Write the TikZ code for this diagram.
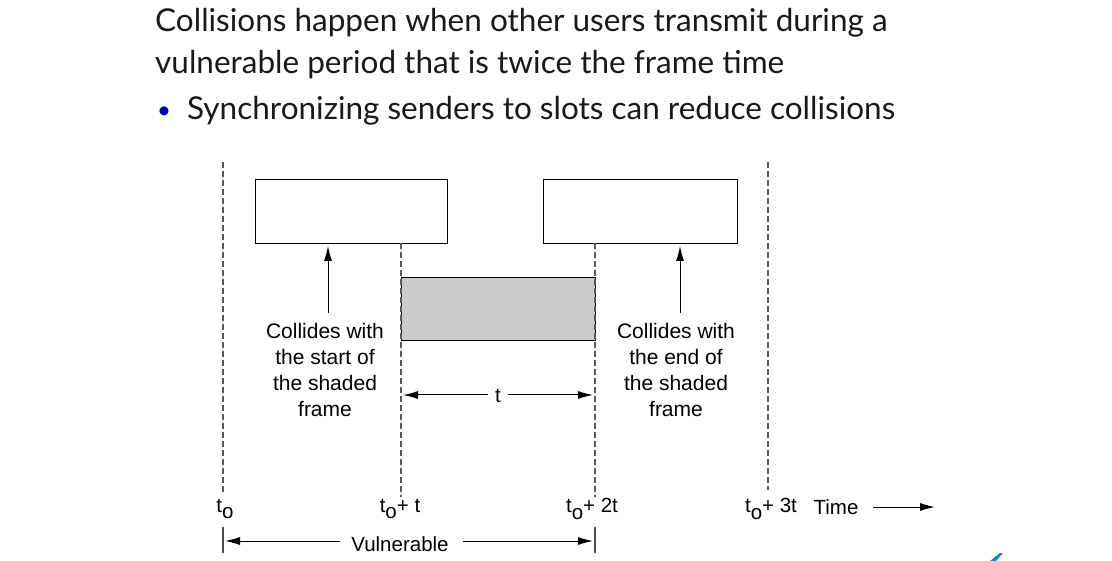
\documentclass[tikz,border=0pt]{standalone}
\usepackage{fontspec}
\setmainfont{Liberation Sans}
\newfontfamily\titlefont{Lato}
\usetikzlibrary{arrows.meta}
\begin{document}
\begin{tikzpicture}[x=1pt,y=-1pt,
  frame/.style={draw=black,line width=1.1pt,minimum width=192pt,minimum height=64pt,inner sep=0pt,anchor=north west},
  shaded/.style={frame,fill=black!20},
  vline/.style={draw=black!65,line width=1.1pt,dash pattern=on 6pt off 3pt},
  tick/.style={draw=black!70,line width=1.1pt},
  arr/.style={draw=black,line width=1pt,-{Latex[length=15pt,width=8pt]}},
  lbl/.style={font=\fontsize{21}{26}\selectfont,align=center,inner sep=0pt},
  tlabel/.style={font=\fontsize{20.5}{22}\selectfont,inner sep=0pt},
  title/.style={font=\titlefont\fontsize{31.5}{42}\selectfont,anchor=base west,inner sep=0pt,text=black!90}
]
\useasboundingbox (0,0) rectangle (1112,561);
% title text
\node[title] (l1) at (155,32) {Collisions happen when other users transmit during a};
\node[title] (l2) at (155,74) {vulnerable period that is twice the frame time};
\node[title] (l3) at (187,120) {Synchronizing senders to slots can reduce collisions};
\node[font=\titlefont\fontsize{24}{24}\selectfont,anchor=base,inner sep=0pt,text=blue!70!black] (bul) at (164,119) {•};

% frames
\node[frame] (fa) at (255,179) {};
\node[frame,minimum width=194pt] (fb) at (543,179) {};
\node[shaded,minimum width=194pt,minimum height=63pt] (fs) at (401,277) {};

% dashed time lines
\coordinate (d0t) at (223,162); \coordinate (d0b) at (223,494);
\coordinate (d1t) at (401,243); \coordinate (d1b) at (401,497);
\coordinate (d2t) at (595,243); \coordinate (d2b) at (595,497);
\coordinate (d3t) at (768,162); \coordinate (d3b) at (768,490);
\draw[vline] (d0t) -- (d0b);
\draw[vline] (d1t) -- (d1b);
\draw[vline] (d2t) -- (d2b);
\draw[vline] (d3t) -- (d3b);

% texts
\node[lbl] (ca) at (325,370) {Collides with\\the start of\\the shaded\\frame};
\node[lbl] (cb) at (676,370) {Collides with\\the end of\\the shaded\\frame};
\coordinate (caT) at (328,313); \coordinate (caH) at (328,246);
\coordinate (cbT) at (680,313); \coordinate (cbH) at (680,246);
\draw[arr] (caT) -- (caH);
\draw[arr] (cbT) -- (cbH);

% t dimension
\node[tlabel] (tl) at (498,396) {t};
\coordinate (tL) at (403,395); \coordinate (tR) at (593,395);
\draw[arr] (488,395) -- (tL);
\draw[arr] (508,395) -- (tR);

% time labels
\node[tlabel] (t0) at (225,509) {t\raisebox{-0.6ex}{o}};
\node[tlabel] (t1) at (400,509) {t\raisebox{-0.6ex}{o}+ t};
\node[tlabel] (t2) at (592,509) {t\raisebox{-0.6ex}{o}+ 2t};
\node[tlabel] (t3) at (771,509) {t\raisebox{-0.6ex}{o}+ 3t};
\node[tlabel] (tm) at (836,507) {Time};
\coordinate (tmA) at (873,507); \coordinate (tmB) at (935,507);
\draw[arr] (tmA) -- (tmB);

% vulnerable
\coordinate (v0t) at (223,527); \coordinate (v0b) at (223,553);
\coordinate (v2t) at (595,527); \coordinate (v2b) at (595,553);
\draw[tick] (v0t) -- (v0b);
\draw[tick] (v2t) -- (v2b);
\node[tlabel] (vu) at (400,544) {Vulnerable};
\coordinate (vL) at (225,541); \coordinate (vR) at (593,541);
\draw[arr] (340,541) -- (vL);
\draw[arr] (463,541) -- (vR);

% small logo fragment
\fill[cyan!70!blue] (990,561) -- (1000,553) -- (1003,553) -- (996,561) -- cycle;
\end{tikzpicture}
\end{document}
